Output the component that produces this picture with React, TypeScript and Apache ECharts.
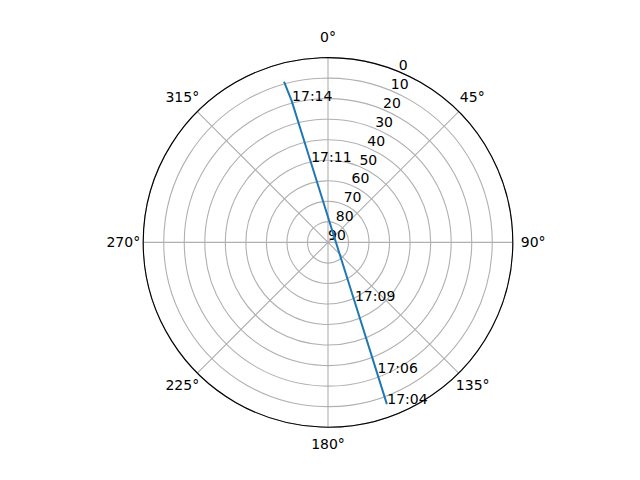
import React, { useEffect, useRef } from "react";
import * as echarts from "echarts";

// pass track: elevation (deg) and azimuth (deg)
const times = ["17:04", "17:06", "17:09", "", "17:11", "17:14", ""];
const elevation = [6.3, 22.1, 58.7, 86.3, 49.8, 18.7, 9.0];
const azimuth = [160.0, 159.4, 155.7, 73.2, 347.9, 345.6, 344.7];

const radiusTicks = [0, 90, 10]; // min, max, step
const angleTicks = [0, 360, 45];

const FONT = "DejaVu Sans";
const CX = 328;
const CY = 242.4;
const R = 184.8;

// per-label padding [top, right, bottom, left] so the degree labels sit on a ring like matplotlib
const anglePads: Record<number, number[]> = {
    0: [0, 0, 18, 0],
    45: [0, 0, 11, 4],
    90: [0, 0, 0, 12],
    135: [8, 0, 0, 0],
    180: [14, 0, 0, 0],
    225: [8, 1, 0, 0],
    270: [0, 7, 0, 0],
    315: [0, 1, 11, 0],
};

const App: React.FC = () => {
    const chartRef = useRef<HTMLDivElement>(null);

    useEffect(() => {
        const chart = echarts.init(chartRef.current!, undefined, { renderer: "svg" });

        const track = elevation.map((el, i) => [el, azimuth[i]]);

        const rich: any = {};
        Object.keys(anglePads).forEach((k) => {
            rich["a" + k] = {
                padding: anglePads[Number(k)],
                fontSize: 14,
                color: "#000",
                fontFamily: FONT,
            };
        });

        const option: any = {
            animation: false,
            backgroundColor: "#ffffff",
            textStyle: { fontFamily: FONT },
            polar: [
                { center: [CX, CY], radius: R },
                // second frame only to put the radial labels at 22.5 deg
                { center: [CX, CY], radius: R },
            ],
            angleAxis: [
                {
                    polarIndex: 0,
                    type: "value",
                    min: angleTicks[0],
                    max: angleTicks[1],
                    interval: angleTicks[2],
                    startAngle: 90,
                    clockwise: true,
                    axisLine: { show: true, lineStyle: { color: "#000", width: 1.1 } },
                    axisTick: { show: false },
                    axisLabel: {
                        formatter: (v: number) => `{a${v}|${v}°}`,
                        rich: rich,
                        margin: -4,
                        fontSize: 14,
                        color: "#000",
                        fontFamily: FONT,
                    },
                    splitLine: { show: true, lineStyle: { color: "#b0b0b0", width: 1.1 } },
                },
                {
                    polarIndex: 1,
                    type: "value",
                    min: angleTicks[0],
                    max: angleTicks[1],
                    startAngle: 67.5,
                    clockwise: true,
                    show: false,
                },
            ],
            radiusAxis: [
                {
                    polarIndex: 0,
                    type: "value",
                    min: radiusTicks[0],
                    max: radiusTicks[1],
                    interval: radiusTicks[2],
                    inverse: true,
                    axisLine: { show: false },
                    axisTick: { show: false },
                    axisLabel: { show: false },
                    splitLine: { show: true, lineStyle: { color: "#b0b0b0", width: 1.1 } },
                },
                {
                    polarIndex: 1,
                    type: "value",
                    min: radiusTicks[0],
                    max: radiusTicks[1],
                    interval: radiusTicks[2],
                    inverse: true,
                    axisLine: { show: false },
                    axisTick: { show: false },
                    splitLine: { show: false },
                    axisLabel: {
                        show: true,
                        margin: 0,
                        align: "left",
                        verticalAlign: "bottom",
                        fontSize: 14,
                        color: "#000",
                        fontFamily: FONT,
                    },
                },
            ],
            series: [
                {
                    type: "line",
                    coordinateSystem: "polar",
                    polarIndex: 0,
                    data: track,
                    symbol: "circle",
                    symbolSize: 1,
                    itemStyle: { color: "#1f77b4" },
                    lineStyle: { color: "#1f77b4", width: 2 },
                    label: {
                        show: true,
                        formatter: (p: any) => times[p.dataIndex],
                        position: [1, 3],
                        align: "left",
                        verticalAlign: "bottom",
                        fontSize: 14,
                        color: "#000",
                        fontFamily: FONT,
                    },
                },
            ],
        };

        chart.setOption(option);

        return () => {
            chart.dispose();
        };
    }, []);

    return (
        <div
            ref={chartRef}
            style={{ position: "absolute", left: 0, top: 0, width: "640px", height: "480px" }}
        ></div>
    );
};

export default App;
